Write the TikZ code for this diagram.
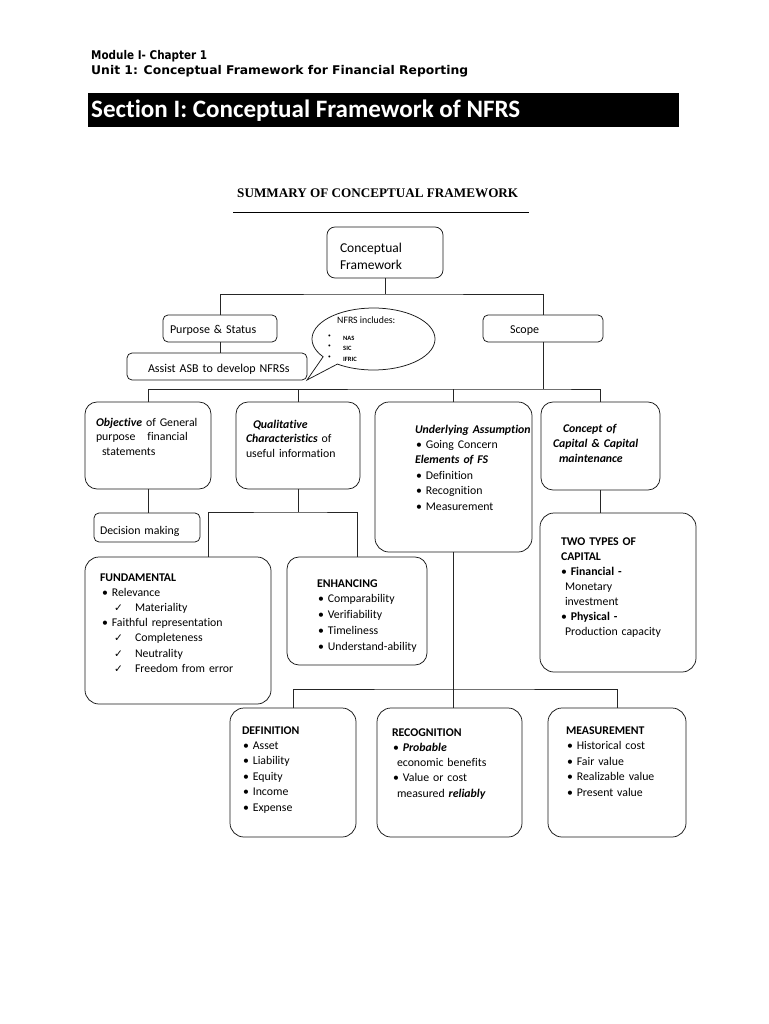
\documentclass[tikz,border=0pt]{standalone}
\usepackage{fontspec}
\usepackage{graphicx}
\setmainfont{Carlito}[Ligatures={NoCommon}]
\newfontfamily\symf{DejaVu Sans}
\newfontfamily\hdf{DejaVu Sans}
\newfontfamily\serf{Liberation Serif}
\usetikzlibrary{calc}
\newcommand\chk{\hspace*{14pt}\makebox[21pt][l]{\symf\fontsize{10.5}{10.5}\selectfont ✓}}
\tikzset{
  box/.style={draw=black!90, line width=0.75pt, rounded corners=12pt, inner sep=0pt, outer sep=0pt, anchor=north west},
  sbox/.style={box, rounded corners=5pt},
  conn/.style={draw=black!85, line width=0.6pt},
  txt/.style={anchor=base west, inner sep=0pt, outer sep=0pt, align=left, text width=#1,
    font=\fontsize{11.8}{15.3}\selectfont},
  txt/.default=150pt,
}
\begin{document}
\begin{tikzpicture}[x=1pt,y=-1pt]
\useasboundingbox (0,0) rectangle (768,1024);
\fill[white] (0,0) rectangle (768,1024);

% ---- header ----
\node[anchor=base west, inner sep=0pt] (mod) at (91,60)
  {\resizebox{116pt}{\height}{\hdf\bfseries\fontsize{12}{12}\selectfont Module I- Chapter 1}};
\node[anchor=base west, inner sep=0pt] (unit) at (91,75)
  {\resizebox{377pt}{\height}{\hdf\bfseries\fontsize{12}{12}\selectfont Unit 1: Conceptual Framework for Financial Reporting}};
\node[fill=black, minimum width=591pt, minimum height=34pt, inner sep=0pt, anchor=north west] (bar) at (88,93) {};
\node[anchor=base west, inner sep=0pt, text=white] (sect) at (91,118)
  {\resizebox{429pt}{!}{\bfseries\fontsize{25}{25}\selectfont Section I: Conceptual Framework of NFRS}};

% ---- title ----
\node[anchor=base west, inner sep=0pt] (title) at (237,197.5)
  {\resizebox{281pt}{!}{\serf\bfseries\fontsize{13}{13}\selectfont SUMMARY OF CONCEPTUAL FRAMEWORK}};
\draw[line width=0.8pt] (233,212) -- (529,212);

% ---- boxes ----
\node[box, rounded corners=8pt, minimum width=116pt, minimum height=51pt] (CF) at (327,227) {};
\node[sbox, minimum width=114pt, minimum height=27pt] (PS) at (163,315) {};
\node[sbox, minimum width=180pt, minimum height=27pt] (AS) at (127,353) {};
\node[sbox, minimum width=120pt, minimum height=27pt] (SC) at (483,315) {};
\node[box, minimum width=126pt, minimum height=87pt] (OB) at (85,402) {};
\node[box, minimum width=124pt, minimum height=87pt] (QC) at (236,402) {};
\node[box, rounded corners=14pt, minimum width=157pt, minimum height=150pt] (UA) at (375,402) {};
\node[box, minimum width=119pt, minimum height=88pt] (CC) at (541,402) {};
\node[sbox, minimum width=106pt, minimum height=29pt] (DM) at (94,513) {};
\node[box, rounded corners=14pt, minimum width=186pt, minimum height=147pt] (FU) at (85,557) {};
\node[box, minimum width=140pt, minimum height=108pt] (EN) at (287,557) {};
\node[box, rounded corners=14pt, minimum width=156pt, minimum height=159pt] (TT) at (540,513) {};
\node[box, rounded corners=14pt, minimum width=126pt, minimum height=129pt] (DF) at (230,708) {};
\node[box, rounded corners=14pt, minimum width=145pt, minimum height=129pt] (RC) at (377,708) {};
\node[box, rounded corners=14pt, minimum width=138pt, minimum height=129pt] (MS) at (548,708) {};

% ---- speech bubble ----
\coordinate (tip) at (AS.south east);
\draw[line width=0.75pt, draw=black!90, fill=white]
  (tip) -- ({373.5+61.5*cos(145)},{339+31*sin(145)})
  arc[start angle=145, end angle=486, x radius=61.5, y radius=31] -- cycle;
\node[anchor=base west, inner sep=0pt, font=\fontsize{9.8}{10}\selectfont] (nfrs) at (337,323) {NFRS includes:};
\node[anchor=base west, inner sep=0pt, font=\fontsize{5.5}{6}\selectfont] (b1) at (328,337) {•};
\node[anchor=base west, inner sep=0pt, font=\fontsize{5.5}{6}\selectfont] (b2) at (328,347) {•};
\node[anchor=base west, inner sep=0pt, font=\fontsize{5.5}{6}\selectfont] (b3) at (328,358) {•};
\node[anchor=base west, inner sep=0pt, font=\bfseries\fontsize{6.5}{7}\selectfont] (nas) at (343,340) {NAS};
\node[anchor=base west, inner sep=0pt, font=\bfseries\fontsize{6.5}{7}\selectfont] (sic) at (343,350) {SIC};
\node[anchor=base west, inner sep=0pt, font=\bfseries\fontsize{6.5}{7}\selectfont] (ifr) at (343,361) {IFRIC};

% ---- connectors ----
\coordinate (j1) at ($(CF.south)+(0,16)$);
\draw[conn] (CF.south) -- (j1);
\draw[conn] (PS.north) |- (j1) -| (SC.north);
\draw[conn] (PS.south) -- (PS.south |- AS.north);
\coordinate (j2) at ($(SC.south)+(0,47)$);
\draw[conn] (SC.south) -- (j2);
\draw[conn] (OB.north) |- (j2) -| (CC.north);
\draw[conn] (QC.north) -- (QC.north |- j2);
\draw[conn] (UA.north) -- (UA.north |- j2);
\draw[conn] (OB.south) -- (OB.south |- DM.north);
\coordinate (j3) at ($(QC.south)+(0,23)$);
\draw[conn] (QC.south) -- (j3);
\draw[conn] ($(FU.north)+(30,0)$) |- (j3) -| (EN.north);
\coordinate (j4) at ($(UA.south)+(0,137)$);
\draw[conn] (UA.south) -- (UA.south |- RC.north);
\draw[conn] (DF.north) |- (j4) -| (MS.north);
\draw[conn] (CC.south) -- (CC.south |- TT.north);

% ---- texts ----
\node[txt, font=\fontsize{13.5}{17}\selectfont] (tCF) at (340,252) {Conceptual\\Framework};
\node[txt, font=\fontsize{12}{14}\selectfont] (tPS) at (170,333) {Purpose \& Status};
\node[txt=170pt, font=\fontsize{12}{14}\selectfont] (tAS) at (148,372) {Assist ASB to develop NFRSs};
\node[txt, font=\fontsize{12}{14}\selectfont] (tSC) at (510,333) {Scope};

\node[txt=120pt, font=\fontsize{11.8}{14.6}\selectfont] (tOB) at (96,426)
  {\textbf{\textit{Objective}} of General\\purpose\hspace{12pt}financial\\\hspace*{6pt}statements};
\node[txt=120pt, font=\fontsize{11.8}{14.6}\selectfont] (tQC) at (246,428)
  {\hspace*{7pt}\textbf{\textit{Qualitative}}\\\textbf{\textit{Characteristics}} of\\useful information};
\node[txt=130pt, font=\fontsize{11.8}{15.4}\selectfont] (tUA) at (415,433)
  {\textbf{\textit{Underlying Assumption}}\\\hspace*{1pt}• Going Concern\\\textbf{\textit{Elements of FS}}\\\hspace*{1pt}• Definition\\\hspace*{1pt}• Recognition\\\hspace*{1pt}• Measurement};
\node[txt=120pt] (tCC) at (553,432)
  {\hspace*{10pt}\textbf{\textit{Concept of}}\\\textbf{\textit{Capital \& Capital}}\\\hspace*{6pt}\textbf{\textit{maintenance}}};
\node[txt] (tDM) at (100,534) {Decision making};
\node[txt=130pt, font=\fontsize{11.8}{15}\selectfont] (tTT) at (561,545)
  {\textbf{TWO TYPES OF}\\\textbf{CAPITAL}\\• \textbf{Financial -}\\\hspace*{4pt}Monetary\\\hspace*{4pt}investment\\• \textbf{Physical -}\\\hspace*{4pt}Production capacity};
\node[txt=170pt, font=\fontsize{11.8}{15.2}\selectfont] (tFU) at (100,581)
  {\textbf{FUNDAMENTAL}\\\hspace*{2pt}• Relevance\\\chk Materiality\\\hspace*{2pt}• Faithful representation\\\chk Completeness\\\chk Neutrality\\\chk Freedom from error};
\node[txt=110pt, font=\fontsize{11.8}{15.8}\selectfont] (tEN) at (317,587)
  {\textbf{ENHANCING}\\\hspace*{1pt}• Comparability\\\hspace*{1pt}• Verifiability\\\hspace*{1pt}• Timeliness\\\hspace*{1pt}• Understand-ability};
\node[txt=110pt, font=\fontsize{11.8}{15.4}\selectfont] (tDF) at (242,734)
  {\textbf{DEFINITION}\\\hspace*{1pt}• Asset\\\hspace*{1pt}• Liability\\\hspace*{1pt}• Equity\\\hspace*{1pt}• Income\\\hspace*{1pt}• Expense};
\node[txt=125pt, font=\fontsize{11.8}{15.3}\selectfont] (tRC) at (392,736)
  {\textbf{RECOGNITION}\\\hspace*{1pt}• \textbf{\textit{Probable}}\\\hspace*{5pt}economic benefits\\\hspace*{1pt}• Value or cost\\\hspace*{5pt}measured \textbf{\textit{reliably}}};
\node[txt=115pt, font=\fontsize{11.8}{15.6}\selectfont] (tMS) at (566,734)
  {\textbf{MEASUREMENT}\\\hspace*{1pt}• Historical cost\\\hspace*{1pt}• Fair value\\\hspace*{1pt}• Realizable value\\\hspace*{1pt}• Present value};
\end{tikzpicture}
\end{document}
